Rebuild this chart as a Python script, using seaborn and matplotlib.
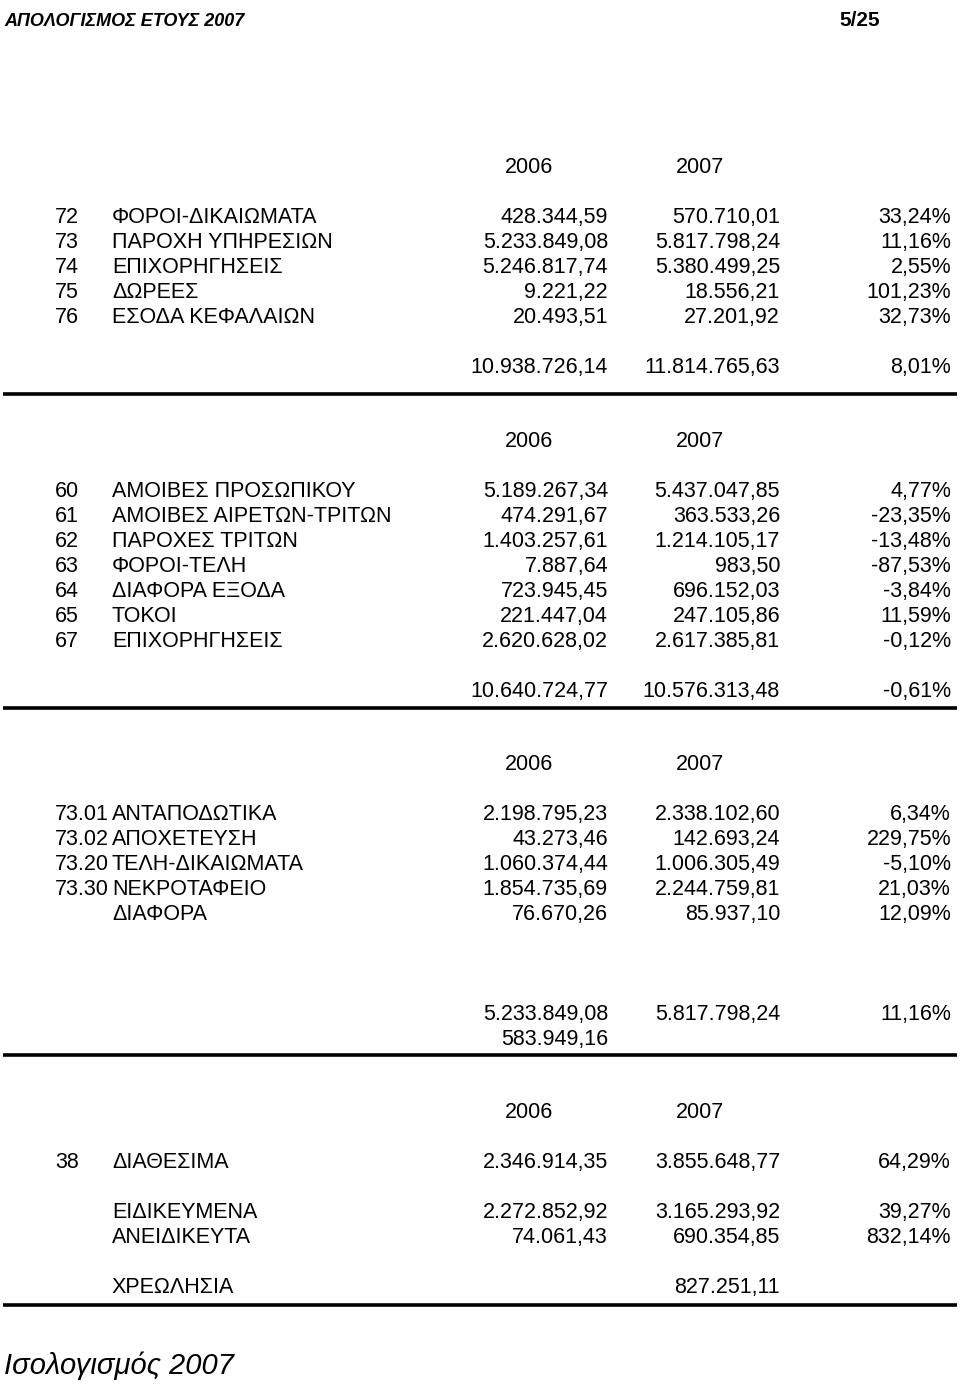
import matplotlib
matplotlib.use("Agg")
import matplotlib.pyplot as plt
import seaborn as sns

# --- data ---------------------------------------------------------------
years = ["2006", "2007"]

rev_codes = ["72", "73", "74", "75", "76"]
rev_names = ["ΦΟΡΟΙ-ΔΙΚΑΙΩΜΑΤΑ", "ΠΑΡΟΧΗ ΥΠΗΡΕΣΙΩΝ", "ΕΠΙΧΟΡΗΓΗΣΕΙΣ",
             "ΔΩΡΕΕΣ", "ΕΣΟΔΑ ΚΕΦΑΛΑΙΩΝ"]
rev_2006 = ["428.344,59", "5.233.849,08", "5.246.817,74", "9.221,22", "20.493,51"]
rev_2007 = ["570.710,01", "5.817.798,24", "5.380.499,25", "18.556,21", "27.201,92"]
rev_pct = ["33,24%", "11,16%", "2,55%", "101,23%", "32,73%"]
rev_total = ["10.938.726,14", "11.814.765,63", "8,01%"]

exp_codes = ["60", "61", "62", "63", "64", "65", "67"]
exp_names = ["ΑΜΟΙΒΕΣ ΠΡΟΣΩΠΙΚΟΥ", "ΑΜΟΙΒΕΣ ΑΙΡΕΤΩΝ-ΤΡΙΤΩΝ", "ΠΑΡΟΧΕΣ ΤΡΙΤΩΝ",
             "ΦΟΡΟΙ-ΤΕΛΗ", "ΔΙΑΦΟΡΑ ΕΞΟΔΑ", "ΤΟΚΟΙ", "ΕΠΙΧΟΡΗΓΗΣΕΙΣ"]
exp_2006 = ["5.189.267,34", "474.291,67", "1.403.257,61", "7.887,64",
            "723.945,45", "221.447,04", "2.620.628,02"]
exp_2007 = ["5.437.047,85", "363.533,26", "1.214.105,17", "983,50",
            "696.152,03", "247.105,86", "2.617.385,81"]
exp_pct = ["4,77%", "-23,35%", "-13,48%", "-87,53%", "-3,84%", "11,59%", "-0,12%"]
exp_total = ["10.640.724,77", "10.576.313,48", "-0,61%"]

svc_codes = ["73.01", "73.02", "73.20", "73.30", ""]
svc_names = ["ΑΝΤΑΠΟΔΩΤΙΚΑ", "ΑΠΟΧΕΤΕΥΣΗ", "ΤΕΛΗ-ΔΙΚΑΙΩΜΑΤΑ", "ΝΕΚΡΟΤΑΦΕΙΟ", "ΔΙΑΦΟΡΑ"]
svc_2006 = ["2.198.795,23", "43.273,46", "1.060.374,44", "1.854.735,69", "76.670,26"]
svc_2007 = ["2.338.102,60", "142.693,24", "1.006.305,49", "2.244.759,81", "85.937,10"]
svc_pct = ["6,34%", "229,75%", "-5,10%", "21,03%", "12,09%"]
svc_total = ["5.233.849,08", "5.817.798,24", "11,16%"]
svc_diff = "583.949,16"

cash_codes = ["38", "", "", ""]
cash_names = ["ΔΙΑΘΕΣΙΜΑ", "ΕΙΔΙΚΕΥΜΕΝΑ", "ΑΝΕΙΔΙΚΕΥΤΑ", "ΧΡΕΩΛΗΣΙΑ"]
cash_2006 = ["2.346.914,35", "2.272.852,92", "74.061,43", ""]
cash_2007 = ["3.855.648,77", "3.165.293,92", "690.354,85", "827.251,11"]
cash_pct = ["64,29%", "39,27%", "832,14%", ""]

# --- layout -------------------------------------------------------------
sns.set_theme(style="white")
plt.rcParams["font.family"] = ["Liberation Sans", "DejaVu Sans"]

W, H = 960, 1386
fig = plt.figure(figsize=(W / 100, H / 100), dpi=100)
ax = fig.add_axes([0, 0, 1, 1])
ax.set_xlim(0, W)
ax.set_ylim(H, 0)
ax.axis("off")

FS = 15.5
X_CODE, X_NAME, X_06, X_07, X_PCT = 55, 112, 608, 780, 951
X_H06, X_H07 = 529, 700


def put(x, y, s, ha="left"):
    # y is the row centre; draw on a common baseline
    if s:
        ax.text(x, y + 7, s, ha=ha, va="baseline", fontsize=FS, color="black")


def header(y):
    put(X_H06, y, years[0], "center")
    put(X_H07, y, years[1], "center")


def rows(y0, codes, names, v06, v07, pct, gaps=None):
    y = y0
    for i in range(len(names)):
        if gaps and i in gaps:
            y += gaps[i]
        put(X_CODE, y, codes[i])
        put(X_NAME, y, names[i])
        put(X_06, y, v06[i], "right")
        put(X_07, y, v07[i], "right")
        put(X_PCT, y, pct[i], "right")
        y += 25
    return y


def rule(y):
    ax.hlines(y, 3, 957, color="black", lw=2.6)


# title bar
ax.text(4, 26, "ΑΠΟΛΟΓΙΣΜΟΣ ΕΤΟΥΣ 2007", ha="left", va="baseline",
        fontsize=13, fontweight="bold", fontstyle="italic", color="black")
ax.text(880, 26, "5/25", ha="right", va="baseline", fontsize=15,
        fontweight="bold", color="black")

# revenues
header(166)
rows(216, rev_codes, rev_names, rev_2006, rev_2007, rev_pct)
put(X_06, 366, rev_total[0], "right")
put(X_07, 366, rev_total[1], "right")
put(X_PCT, 366, rev_total[2], "right")
rule(394)

# expenses
header(440)
rows(490, exp_codes, exp_names, exp_2006, exp_2007, exp_pct)
put(X_06, 690, exp_total[0], "right")
put(X_07, 690, exp_total[1], "right")
put(X_PCT, 690, exp_total[2], "right")
rule(708)

# services
header(763)
rows(813, svc_codes, svc_names, svc_2006, svc_2007, svc_pct)
put(X_06, 1013, svc_total[0], "right")
put(X_07, 1013, svc_total[1], "right")
put(X_PCT, 1013, svc_total[2], "right")
put(X_06, 1038, svc_diff, "right")
rule(1055)

# cash
header(1111)
rows(1161, cash_codes, cash_names, cash_2006, cash_2007, cash_pct,
     gaps={1: 25, 3: 25})
rule(1305)

ax.text(4, 1374, "Ισολογισμός 2007", ha="left", va="baseline",
        fontsize=21, fontstyle="italic", color="black")

fig.savefig("out.png", dpi=100, facecolor="white")
